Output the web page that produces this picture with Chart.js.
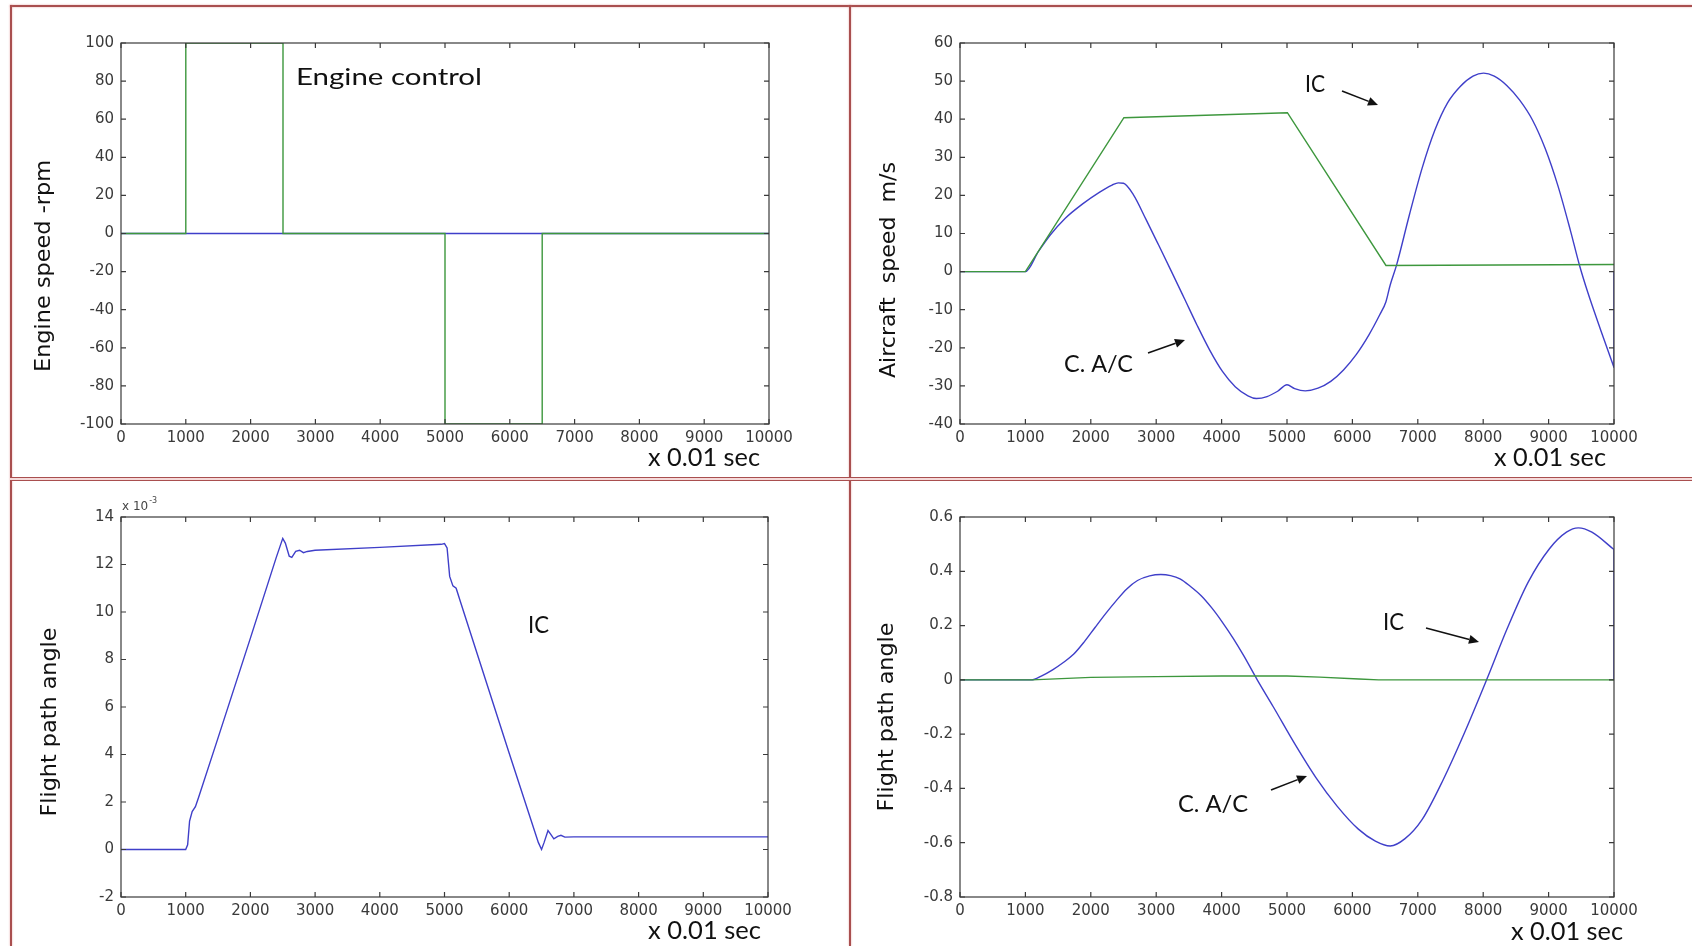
<!DOCTYPE html>
<html>
<head>
<meta charset="utf-8">
<title>Engine control / aircraft response</title>
<script src="https://cdn.jsdelivr.net/npm/chart.js@4.4.1/dist/chart.umd.min.js"></script>
<style>
    html, body { margin: 0; padding: 0; background: #fff; }
    #page { position: relative; width: 1692px; height: 946px; overflow: hidden; background: #fff; }
    #page canvas { position: absolute; }
    .rule { position: absolute; background: #a94f4f; box-shadow: 0 0 2px rgba(215, 120, 120, 0.7); }
    .rule.double { background: #f5dada; border-top: 1px solid #a94f4f; border-bottom: 1px solid #a94f4f; box-shadow: none; }
</style>
</head>
<body>
<div id="page">
    <canvas id="engineChart"></canvas>
    <canvas id="speedChart"></canvas>
    <canvas id="angleChart"></canvas>
    <canvas id="pathChart"></canvas>
    <div class="rule" style="left:10px;top:5px;width:1682px;height:1.5px"></div>
    <div class="rule" style="left:10px;top:5px;width:1.5px;height:941px"></div>
    <div class="rule" style="left:849px;top:5px;width:1.5px;height:941px"></div>
    <div class="rule double" style="left:10px;top:477px;width:1682px;height:2px"></div>
</div>
<script>
// ---- data (time in units of 0.01 sec) ----

// Engine control, top left
const engineT = [0, 1000, 1000, 2500, 2500, 5000, 5000, 6500, 6500, 10000];
const engineIc = [0, 0, 100, 100, 0, 0, -100, -100, 0, 0];
const engineCacT = [0, 10000];
const engineCac = [0, 0];

// Aircraft speed m/s, top right
const speedIcT = [0, 1000, 2506, 5006, 6513, 10000];
const speedIc = [0, 0, 40.4, 41.7, 1.6, 1.85];
const speedCacT = [0, 1000, 1200, 1380, 1610, 1870, 2130, 2325, 2420, 2500, 2650, 2844, 3039, 3234, 3429,
    3623, 3818, 4013, 4208, 4403, 4532, 4695, 4857, 5000, 5117, 5279, 5474, 5669, 5864, 6058, 6253, 6416,
    6513, 6578, 6675, 6870, 7065, 7260, 7455, 7649, 7844, 8006, 8169, 8364, 8558, 8753, 8948, 9143, 9338,
    9470, 9600, 9800, 10000];
const speedCac = [0, 0, 5.3, 9.6, 14.0, 17.7, 20.8, 22.7, 23.3, 23.2, 20.2, 13.7, 6.9, 0, -7.0,
    -14.0, -20.6, -26.2, -30.2, -32.6, -33.3, -32.8, -31.4, -29.7, -30.7, -31.3, -30.6, -28.8, -25.8, -21.8, -16.6, -11.4,
    -7.9, -3.5, 1.7, 14.8, 27.1, 37.1, 44.3, 48.6, 51.3, 52.1, 51.3, 48.8, 45.0, 39.8, 32.3, 22.5, 10.5,
    1.8, -5.5, -15.5, -25.2];
const speedCacEndT = [10000, 10000];
const speedCacEnd = [-25.2, 0];

// Flight path angle (x 10^-3), bottom left
const angleIcT = [0, 1000, 1030, 1060, 1100, 1150, 1200, 1500, 2000, 2400, 2500, 2540, 2600, 2640, 2700,
    2760, 2820, 2880, 3000, 4000, 4950, 5000, 5040, 5080, 5130, 5180, 5250, 6000, 6450, 6500, 6540, 6600,
    6640, 6690, 6750, 6800, 6860, 7000, 10000];
const angleIc = [0, 0, 0.2, 1.2, 1.6, 1.8, 2.2, 4.7, 8.9, 12.3, 13.1, 12.9, 12.35, 12.3, 12.55,
    12.6, 12.5, 12.55, 12.6, 12.72, 12.85, 12.88, 12.7, 11.5, 11.1, 11.0, 10.4, 4.05, 0.3, 0.0, 0.3, 0.8,
    0.65, 0.45, 0.55, 0.6, 0.52, 0.53, 0.53];

// Flight path angle, bottom right
const pathIcT = [0, 1100, 2000, 3000, 4000, 5000, 5500, 6100, 6400, 10000];
const pathIc = [0, 0, 0.009, 0.012, 0.014, 0.014, 0.01, 0.003, 0, 0];
const pathCacT = [0, 1091, 1250, 1416, 1580, 1740, 1900, 2065, 2230, 2390, 2550, 2714, 2900, 3071, 3220,
    3364, 3520, 3688, 3850, 4013, 4180, 4338, 4545, 4792, 5117, 5442, 5766, 6091, 6351, 6578, 6805, 7065,
    7390, 7714, 8052, 8364, 8688, 9013, 9273, 9455, 9662, 10000];
const pathCac = [0, 0, 0.015, 0.037, 0.064, 0.095, 0.14, 0.193, 0.245, 0.292, 0.335, 0.366, 0.383, 0.388, 0.384,
    0.372, 0.345, 0.310, 0.265, 0.212, 0.152, 0.089, 0, -0.1, -0.235, -0.36, -0.465, -0.55, -0.594, -0.612, -0.585, -0.515,
    -0.367, -0.195, 0, 0.187, 0.360, 0.483, 0.544, 0.560, 0.544, 0.48];
const pathCacEndT = [10000, 10000];
const pathCacEnd = [0.48, 0];

// ---- drawing ----
const BLUE = "#3f3fc9";
const GREEN = "#3d973d";
const AXIS = "#3a3a3a";
const TICK_FONT = { family: "DejaVu Sans", size: 15 };
const TICK_LEN = 5;
const Y_W = 60;
const X_H = 30;

const pts = (xs, ys) => xs.map((x, i) => ({ x, y: ys[i] }));
const unitLabel = "x 0.01 sec";

const panels = [
    {
        id: "engineChart",
        box: [0, 0, 850, 478],
        area: [121, 43, 769, 424],
        y: { min: -100, max: 100, step: 20, digits: 0 },
        series: [
            { data: pts(engineT, engineIc), color: GREEN },
            { data: pts(engineCacT, engineCac), color: BLUE },
        ],
        title: { text: "Engine speed -rpm", x: 44, y: 266, len: 212 },
        unit: { x: 648, y: 466, w: 112 },
        notes: [{ text: "Engine control", x: 296, y: 85, w: 186 }],
        arrows: [],
    },
    {
        id: "speedChart",
        box: [850, 0, 842, 478],
        area: [960, 43, 1614, 424],
        y: { min: -40, max: 60, step: 10, digits: 0 },
        series: [
            { data: pts(speedIcT, speedIc), color: GREEN },
            { data: pts(speedCacT, speedCac), color: BLUE, smooth: true },
            { data: pts(speedCacEndT, speedCacEnd), color: BLUE },
        ],
        title: { text: "Aircraft  speed  m/s", x: 889, y: 270, len: 216 },
        unit: { x: 1494, y: 466, w: 112 },
        notes: [
            { text: "IC", x: 1305, y: 92, w: 20 },
            { text: "C. A/C", x: 1064, y: 372, w: 69 },
        ],
        arrows: [[1342, 91, 1378, 105], [1148, 353, 1185, 340]],
    },
    {
        id: "angleChart",
        box: [0, 478, 850, 468],
        area: [121, 517, 768, 897],
        y: { min: -2, max: 14, step: 2, digits: 0 },
        series: [{ data: pts(angleIcT, angleIc), color: BLUE }],
        title: { text: "Flight path angle", x: 50, y: 722, len: 189 },
        unit: { x: 648, y: 939, w: 113 },
        notes: [{ text: "IC", x: 528, y: 633, w: 21 }],
        arrows: [],
        expo: { x: 122, y: 510 },
    },
    {
        id: "pathChart",
        box: [850, 478, 842, 468],
        area: [960, 517, 1614, 897],
        y: { min: -0.8, max: 0.6, step: 0.2, digits: 1 },
        series: [
            { data: pts(pathIcT, pathIc), color: GREEN },
            { data: pts(pathCacT, pathCac), color: BLUE, smooth: true },
            { data: pts(pathCacEndT, pathCacEnd), color: BLUE },
        ],
        title: { text: "Flight path angle", x: 887, y: 717, len: 189 },
        unit: { x: 1511, y: 940, w: 112 },
        notes: [
            { text: "IC", x: 1383, y: 630, w: 21 },
            { text: "C. A/C", x: 1178, y: 812, w: 70 },
        ],
        arrows: [[1426, 628, 1479, 642], [1271, 790, 1307, 776]],
    },
];

// text squeezed/stretched to the width it has in the picture
const fitText = (ctx, text, x, y, size, width) => {
    ctx.font = `${size}px Lato`;
    const w = ctx.measureText(text).width;
    ctx.save();
    ctx.translate(x, y);
    ctx.scale(width / w, 1);
    ctx.textAlign = "left";
    ctx.textBaseline = "alphabetic";
    ctx.fillText(text, 0, 0);
    ctx.restore();
};

const drawArrow = (ctx, x1, y1, x2, y2) => {
    const ang = Math.atan2(y2 - y1, x2 - x1);
    const head = 10;
    const half = 4.5;
    const bx = x2 - head * Math.cos(ang);
    const by = y2 - head * Math.sin(ang);
    ctx.beginPath();
    ctx.moveTo(x1, y1);
    ctx.lineTo(bx, by);
    ctx.stroke();
    ctx.beginPath();
    ctx.moveTo(x2, y2);
    ctx.lineTo(bx + half * Math.sin(ang), by - half * Math.cos(ang));
    ctx.lineTo(bx - half * Math.sin(ang), by + half * Math.cos(ang));
    ctx.closePath();
    ctx.fill();
};

// matlab-like box with inward ticks, plus labels and arrows
const decor = (p) => ({
    id: "decor",
    afterDatasetsDraw(chart) {
        const { ctx, chartArea: a } = chart;
        const { x, y } = chart.scales;
        ctx.save();
        ctx.strokeStyle = AXIS;
        ctx.lineWidth = 1.2;
        ctx.beginPath();
        x.ticks.forEach((t) => {
            const px = x.getPixelForValue(t.value);
            ctx.moveTo(px, a.bottom);
            ctx.lineTo(px, a.bottom - TICK_LEN);
            ctx.moveTo(px, a.top);
            ctx.lineTo(px, a.top + TICK_LEN);
        });
        y.ticks.forEach((t) => {
            const py = y.getPixelForValue(t.value);
            ctx.moveTo(a.left, py);
            ctx.lineTo(a.left + TICK_LEN, py);
            ctx.moveTo(a.right, py);
            ctx.lineTo(a.right - TICK_LEN, py);
        });
        ctx.stroke();
        ctx.strokeRect(a.left, a.top, a.right - a.left, a.bottom - a.top);
        ctx.restore();
    },
    afterDraw(chart) {
        const ctx = chart.ctx;
        ctx.save();
        ctx.translate(-p.box[0], -p.box[1]);
        ctx.fillStyle = "#111";

        // y axis title
        ctx.save();
        ctx.font = '22px "DejaVu Sans"';
        const tw = ctx.measureText(p.title.text).width;
        ctx.translate(p.title.x, p.title.y);
        ctx.rotate(-Math.PI / 2);
        ctx.scale(p.title.len / tw, 1);
        ctx.textAlign = "center";
        ctx.textBaseline = "middle";
        ctx.fillText(p.title.text, 0, 0);
        ctx.restore();

        fitText(ctx, unitLabel, p.unit.x, p.unit.y, 25, p.unit.w);
        p.notes.forEach((n) => fitText(ctx, n.text, n.x, n.y, 24, n.w));

        ctx.strokeStyle = "#111";
        ctx.lineWidth = 1.6;
        p.arrows.forEach((ar) => drawArrow(ctx, ...ar));

        if (p.expo) {
            ctx.fillStyle = "#444";
            ctx.font = '12px "DejaVu Sans"';
            ctx.textBaseline = "alphabetic";
            ctx.fillText("x 10", p.expo.x, p.expo.y);
            const w = ctx.measureText("x 10").width;
            ctx.font = '8px "DejaVu Sans"';
            ctx.fillText("-3", p.expo.x + w + 1, p.expo.y - 7);
        }
        ctx.restore();
    },
});

panels.forEach((p) => {
    const canvas = document.getElementById(p.id);
    const [cx, cy, cw, ch] = p.box;
    const [al, at, ar, ab] = p.area;
    canvas.style.left = cx + "px";
    canvas.style.top = cy + "px";
    canvas.width = cw;
    canvas.height = ch;

    new Chart(canvas, {
        type: "line",
        data: {
            datasets: p.series.map((s, i) => ({
                data: s.data,
                borderColor: s.color,
                borderWidth: 1.4,
                pointRadius: 0,
                fill: false,
                tension: 0,
                cubicInterpolationMode: s.smooth ? "monotone" : "default",
                order: i,
            })),
        },
        options: {
            responsive: false,
            animation: false,
            events: [],
            layout: {
                padding: { left: al - cx - Y_W, top: at - cy, right: cx + cw - ar, bottom: cy + ch - ab - X_H },
            },
            plugins: { legend: { display: false }, tooltip: { enabled: false } },
            scales: {
                x: {
                    type: "linear",
                    min: 0,
                    max: 10000,
                    grid: { display: false, drawTicks: false },
                    border: { display: false },
                    ticks: {
                        stepSize: 1000,
                        padding: 5,
                        autoSkip: false,
                        maxRotation: 0,
                        font: TICK_FONT,
                        color: AXIS,
                        callback: (v) => String(v),
                    },
                    afterFit: (s) => {
                        s.height = X_H;
                        s.paddingLeft = 0;
                        s.paddingRight = 0;
                    },
                },
                y: {
                    type: "linear",
                    min: p.y.min,
                    max: p.y.max,
                    grid: { display: false, drawTicks: false },
                    border: { display: false },
                    ticks: {
                        stepSize: p.y.step,
                        padding: 7,
                        autoSkip: false,
                        font: TICK_FONT,
                        color: AXIS,
                        callback: (v) => String(+Number(v).toFixed(p.y.digits)),
                    },
                    afterFit: (s) => {
                        s.width = Y_W;
                        s.paddingTop = 0;
                        s.paddingBottom = 0;
                    },
                },
            },
        },
        plugins: [decor(p)],
    });
});
</script>
</body>
</html>
